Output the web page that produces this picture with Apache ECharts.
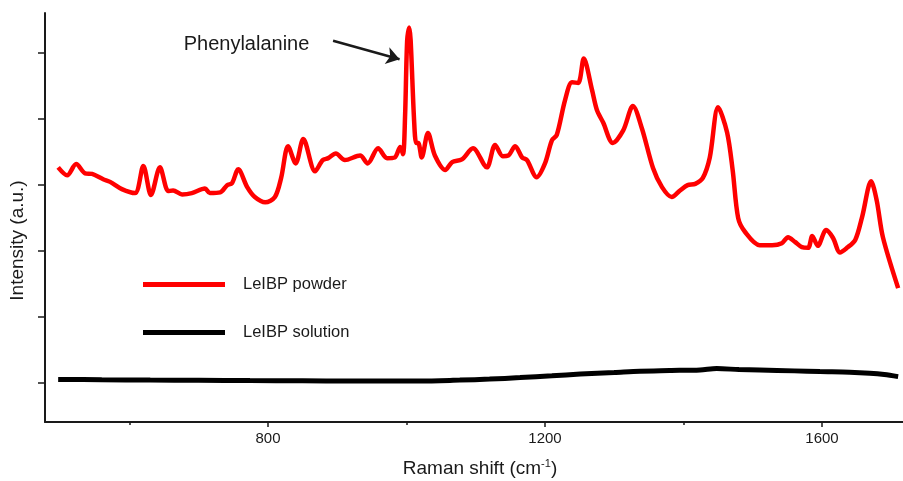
<!DOCTYPE html>
<html>
<head>
<meta charset="utf-8">
<title>Raman</title>
<script src="https://cdn.jsdelivr.net/npm/echarts@6.0.0/dist/echarts.min.js"></script>
<style>
  html, body { margin: 0; padding: 0; background: #fff; }
  #chart { width: 903px; height: 481px; }
</style>
</head>
<body>
<div id="chart"></div>
<script>
// values (x: cm-1, y: arbitrary units, one y tick = 1)
var powderShift = [497, 510, 523, 536, 546, 562, 572, 589, 608, 620, 631, 644, 656, 663, 676, 690,
  709, 716, 731, 741, 748, 757, 770, 781, 796, 810, 819, 829, 840, 851, 868, 879, 887, 898,
  911, 933, 944, 959, 972, 983, 991, 995, 998, 1001, 1004, 1006, 1011, 1014, 1017, 1022, 1031,
  1041, 1056, 1066, 1080, 1096, 1116, 1128, 1139, 1147, 1157, 1167, 1174, 1188, 1200, 1210,
  1217, 1229, 1239, 1248, 1256, 1268, 1275, 1284, 1298, 1313, 1327, 1340, 1356, 1369, 1383,
  1395, 1406, 1417, 1428, 1438, 1450, 1463, 1471, 1479, 1489, 1510, 1528, 1542, 1551, 1561,
  1571, 1580, 1586, 1594, 1606, 1616, 1626, 1636, 1648, 1658, 1671, 1679, 1688, 1710]
var powderIntensity = [3.27, 3.15, 3.32, 3.18, 3.17, 3.09, 3.05, 2.94, 2.88, 3.29, 2.85, 3.27, 2.91, 2.92, 2.86, 2.88,
  2.95, 2.88, 2.89, 3.0, 3.03, 3.24, 2.97, 2.82, 2.74, 2.82, 3.11, 3.59, 3.33, 3.70, 3.21, 3.38, 3.41, 3.48,
  3.38, 3.45, 3.33, 3.56, 3.41, 3.42, 3.58, 3.47, 4.06, 5.2, 5.39, 5.2, 3.98, 3.64, 3.64, 3.42, 3.79,
  3.45, 3.23, 3.35, 3.39, 3.56, 3.27, 3.61, 3.44, 3.45, 3.59, 3.42, 3.38, 3.12, 3.33, 3.68,
  3.76, 4.29, 4.56, 4.55, 4.92, 4.44, 4.14, 3.95, 3.64, 3.83, 4.20, 3.86, 3.26, 2.97, 2.82,
  2.92, 3.0, 3.02, 3.11, 3.42, 4.18, 3.80, 3.23, 2.50, 2.29, 2.09, 2.09, 2.12, 2.21, 2.14,
  2.06, 2.05, 2.23, 2.08, 2.32, 2.20, 1.98, 2.05, 2.17, 2.52, 3.06, 2.77, 2.21, 1.44]

var solutionShift = [497, 560, 630, 700, 774, 850, 918, 1019, 1077, 1120, 1164, 1210, 1251, 1300,
  1337, 1380, 1424, 1448, 1480, 1510, 1560, 1597, 1640, 1669, 1690, 1710]
var solutionIntensity = [0.056, 0.05, 0.045, 0.042, 0.038, 0.035, 0.03, 0.03, 0.045, 0.06, 0.083, 0.11, 0.136, 0.16,
  0.18, 0.19, 0.2, 0.22, 0.205, 0.197, 0.185, 0.174, 0.165, 0.15, 0.13, 0.098]

var seriesNames = ['LeIBP powder', 'LeIBP solution']
var xMajorTicks = [800, 1200, 1600]
var xMinorTicks = [600, 1000, 1400]
var yTicks = [0, 1, 2, 3, 4, 5]

var font = 'Liberation Sans, Arial, sans-serif'
var ink = '#1a1a1a'

function pairs(xs, ys) {
  return xs.map(function (x, i) { return [x, ys[i]] })
}

var chart = echarts.init(document.getElementById('chart'), null, { renderer: 'canvas' })

var option = {
  backgroundColor: '#fff',
  animation: false,
  grid: { left: 45, right: 0, top: 13, bottom: 59, outerBoundsMode: 'none' },
  legend: {
    data: seriesNames,
    orient: 'vertical',
    left: 143,
    top: 276,
    padding: 0,
    icon: 'rect',
    itemWidth: 82,
    itemHeight: 5,
    itemGap: 31,
    textStyle: { fontFamily: font, fontSize: 16.5, lineHeight: 16, color: ink, padding: [0, 0, 0, 13] }
  },
  xAxis: [{
    type: 'value',
    min: 478,
    max: 1717,
    name: '{a|Raman shift (cm}{s|-1}{a|)}',
    nameLocation: 'middle',
    nameGap: 36,
    nameTextStyle: {
      padding: [0, 0, 0, 12],
      rich: {
        a: { fontFamily: font, fontSize: 19, color: ink },
        s: { fontFamily: font, fontSize: 11, color: ink, padding: [0, 0, 10, 0] }
      }
    },
    splitLine: { show: false },
    axisLine: { onZero: false, lineStyle: { color: ink, width: 2 } },
    axisTick: { customValues: xMajorTicks, length: 5, lineStyle: { color: ink, width: 1.5 } },
    axisLabel: {
      customValues: xMajorTicks,
      formatter: function (v) { return String(v) },
      fontFamily: font, fontSize: 15, color: ink, margin: 9
    }
  }, {
    type: 'value',
    min: 478,
    max: 1717,
    position: 'bottom',
    splitLine: { show: false },
    axisLine: { show: false, onZero: false },
    axisTick: { customValues: xMinorTicks, length: 3, lineStyle: { color: ink, width: 1.5 } },
    axisLabel: { show: false }
  }],
  yAxis: {
    type: 'value',
    min: -0.59,
    max: 5.61,
    name: 'Intensity (a.u.)',
    nameLocation: 'middle',
    nameRotate: 90,
    nameGap: 18,
    nameTextStyle: { fontFamily: font, fontSize: 19, color: ink, padding: [0, 46, 0, 0] },
    splitLine: { show: false },
    axisLine: { show: true, onZero: false, lineStyle: { color: ink, width: 2 } },
    axisTick: { show: true, customValues: yTicks, length: 7, lineStyle: { color: ink, width: 1.5 } },
    axisLabel: { show: false }
  },
  series: [
    {
      name: seriesNames[0],
      type: 'line',
      data: pairs(powderShift, powderIntensity),
      showSymbol: false,
      symbol: 'none',
      smooth: 0.3,
      lineStyle: { color: '#ff0000', width: 4.5 },
      itemStyle: { color: '#ff0000' },
      z: 3,
      markPoint: {
        silent: true,
        symbol: 'circle',
        symbolSize: 0,
        data: [{ coord: [769, 5.14], value: 'Phenylalanine' }],
        label: { show: true, position: 'inside', formatter: '{c}', fontFamily: font, fontSize: 20, color: ink }
      },
      markLine: {
        silent: true,
        symbol: ['none', 'arrow'],
        symbolSize: 13,
        lineStyle: { color: ink, width: 2.5, type: 'solid' },
        label: { show: false },
        data: [[{ coord: [894, 5.19] }, { coord: [990, 4.91] }]]
      }
    },
    {
      name: seriesNames[1],
      type: 'line',
      data: pairs(solutionShift, solutionIntensity),
      showSymbol: false,
      symbol: 'none',
      smooth: 0.3,
      lineStyle: { color: '#000', width: 5 },
      itemStyle: { color: '#000' },
      z: 2
    }
  ]
}

chart.setOption(option)
</script>
</body>
</html>
